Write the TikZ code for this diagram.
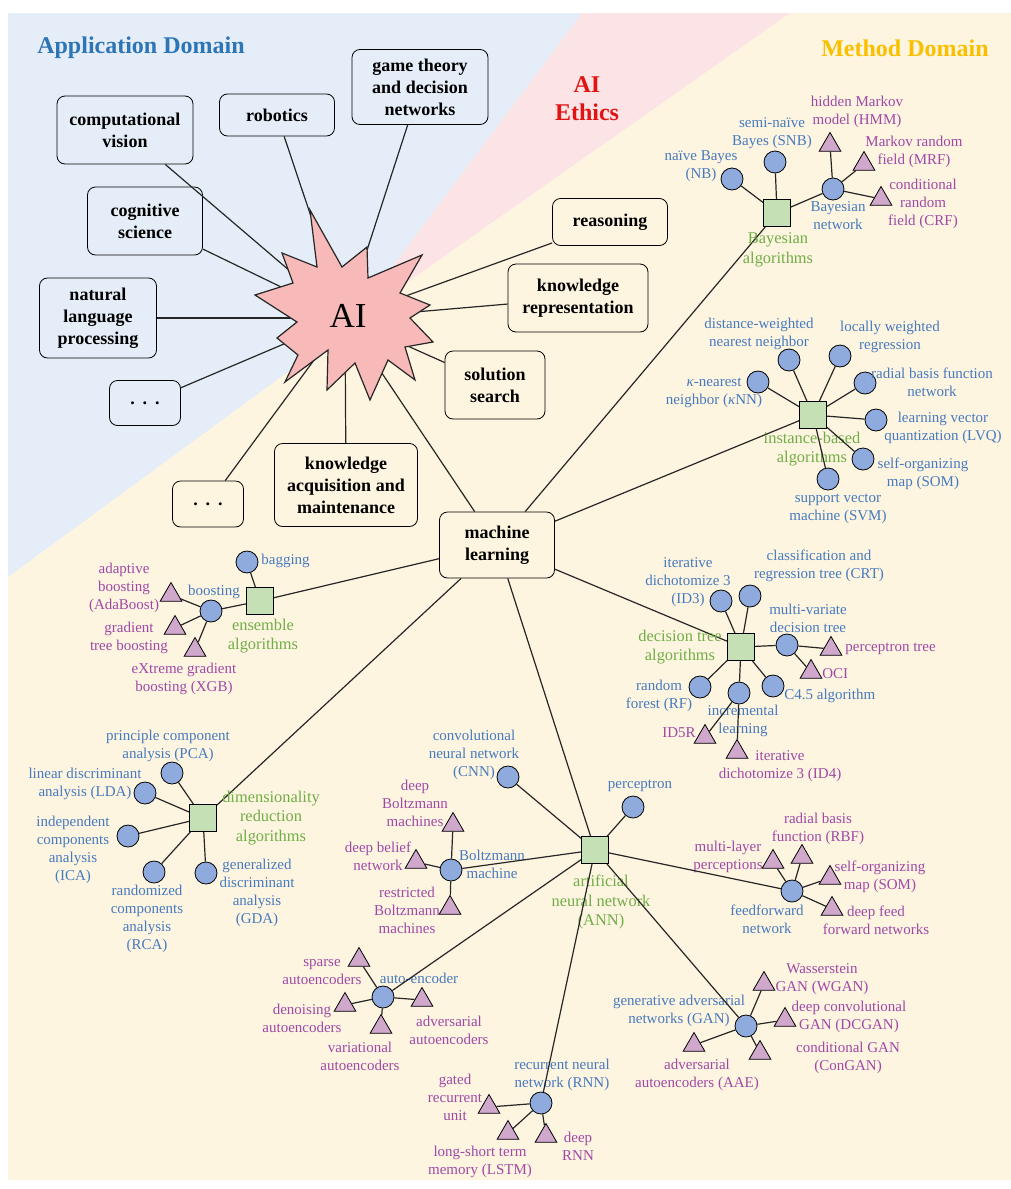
\documentclass[tikz,border=0pt]{standalone}
\usepackage{fontspec}
\setmainfont{Liberation Serif}
\usepackage{tikz}
\usetikzlibrary{shapes.geometric}
\definecolor{bgblue}{RGB}{229,238,248}
\definecolor{bgpink}{RGB}{252,228,230}
\definecolor{bgyellow}{RGB}{254,245,225}
\definecolor{starpink}{RGB}{248,185,185}
\definecolor{sqgreen}{RGB}{197,224,180}
\definecolor{txtgreen}{RGB}{112,173,71}
\definecolor{circblue}{RGB}{143,170,220}
\definecolor{txtblue}{RGB}{70,122,190}
\definecolor{tripink}{RGB}{208,168,204}
\definecolor{txtpurple}{RGB}{160,72,165}
\definecolor{appblue}{RGB}{46,117,182}
\definecolor{methgold}{RGB}{250,192,0}
\definecolor{ethred}{RGB}{225,20,20}
\tikzset{box/.style = {draw, rounded corners = 4pt, align = center, inner sep = 1pt,
                       font = \bfseries\fontsize{9}{11}\selectfont}}
\tikzset{edge/.style = {draw = black!85, line width = 0.6pt}}
\tikzset{circ/.style = {circle, draw, fill = circblue, minimum size = 11pt, inner sep = 0}}
\tikzset{tri/.style = {regular polygon, regular polygon sides = 3, draw, fill = tripink,
                       minimum size = 12.5pt, inner sep = 0}}
\tikzset{sq/.style = {rectangle, draw, fill = sqgreen, minimum size = 13.5pt, inner sep = 0}}
\tikzset{bl/.style = {text = txtblue, align = center, inner sep = 0,
                      font = \fontsize{7.5}{9}\selectfont}}
\tikzset{pl/.style = {text = txtpurple, align = center, inner sep = 0,
                      font = \fontsize{7.5}{9}\selectfont}}
\tikzset{gl/.style = {text = txtgreen, align = center, inner sep = 0,
                      font = \fontsize{8.2}{9.8}\selectfont}}
\tikzset{title/.style = {font = \bfseries\fontsize{12}{14}\selectfont, align = center, inner sep = 0}}

\begin{document}
\begin{tikzpicture}[x = 0.5pt, y = -0.5pt]
      \useasboundingbox (0, 0) rectangle (1011, 1189);
      \fill [white] (0, 0) rectangle (1011, 1189);
      \fill [bgyellow] (8, 13) rectangle (1011, 1180);
      \fill [bgpink] (582, 13) -- (790, 13) -- (345, 326) -- cycle;
      \fill [bgblue] (8, 13) -- (582, 13) -- (345, 330) -- (8, 577) -- cycle;

      \node [title, text = appblue] (appt) at (141, 48) {Application Domain};
      \node [title, text = methgold] (metht) at (905, 48) {Method Domain};
      \node [title, text = ethred] (etht) at (587, 99) {AI\\Ethics};

      \node [box, minimum width = 68pt, minimum height = 34pt] (cv) at (125, 130) {computational\\vision};
      \node [box, minimum width = 57.5pt, minimum height = 21pt] (rob) at (277, 115) {robotics};
      \node [box, minimum width = 68pt, minimum height = 37.5pt] (gt) at (420, 87) {game theory\\and decision\\networks};
      \node [box, minimum width = 57.5pt, minimum height = 34pt] (cs) at (145, 221) {cognitive\\science};
      \node [box, minimum width = 58.5pt, minimum height = 40pt] (nlp) at (98, 318) {natural\\language\\processing};
      \node [box, minimum width = 35.5pt, minimum height = 22.5pt] (dotsA) at (145, 403) {.\hspace{4pt}.\hspace{4pt}.};
      \node [box, minimum width = 35.5pt, minimum height = 23pt] (dotsM) at (208, 504) {.\hspace{4pt}.\hspace{4pt}.};
      \node [box, minimum width = 71.5pt, minimum height = 41.5pt] (kam) at (346, 485) {knowledge\\acquisition and\\maintenance};
      \node [box, minimum width = 57.5pt, minimum height = 33pt] (ml) at (497, 545) {machine\\learning};
      \node [box, minimum width = 57.5pt, minimum height = 23.5pt] (reas) at (610, 222) {reasoning};
      \node [box, minimum width = 70pt, minimum height = 34pt] (krep) at (578, 298) {knowledge\\representation};
      \node [box, minimum width = 50pt, minimum height = 34pt] (sols) at (495, 385) {solution\\search};

      \coordinate (AIc) at (345, 318);
      \draw [edge] (cv) -- (AIc);
      \draw [edge] (rob) -- (AIc);
      \draw [edge] (gt) -- (AIc);
      \draw [edge] (cs) -- (AIc);
      \draw [edge] (nlp) -- (AIc);
      \draw [edge] (dotsA) -- (AIc);
      \draw [edge] (dotsM) -- (AIc);
      \draw [edge] (kam) -- (AIc);
      \draw [edge] (ml) -- (AIc);
      \draw [edge] (reas) -- (AIc);
      \draw [edge] (krep) -- (AIc);
      \draw [edge] (sols) -- (AIc);

      \filldraw [fill = starpink, draw = black!85, line width = 0.6pt]
        (310, 210) -- (342, 267) -- (367, 247) -- (368, 278) -- (422, 255) -- (400, 293)
        -- (430, 305) -- (410, 318) -- (433, 342) -- (405, 347) -- (415, 380) -- (388, 360)
        -- (370, 400) -- (355, 363) -- (327, 390) -- (328, 350) -- (285, 382) -- (298, 355)
        -- (277, 338) -- (297, 322) -- (255, 295) -- (293, 283) -- (282, 253) -- (317, 267) -- cycle;
      \node [font = \fontsize{17.5}{20}\selectfont, inner sep = 0] (AI) at (348, 316) {AI};

      \node [sq] (bay) at (777, 213) {};
      \node [sq] (inst) at (813, 415) {};
      \node [sq] (dtree) at (741, 647) {};
      \node [sq] (ens) at (260, 601) {};
      \node [sq] (dimred) at (203, 818) {};
      \node [sq] (ann) at (595, 850) {};
      \draw [edge] (ml) -- (bay);
      \draw [edge] (ml) -- (inst);
      \draw [edge] (ml) -- (dtree);
      \draw [edge] (ml) -- (ens);
      \draw [edge] (ml) -- (dimred);
      \draw [edge] (ml) -- (ann);

      \node [gl] (bayl) at (778, 250) {Bayesian\\algorithms};
      \node [circ] (nb) at (732, 179) {};
      \node [circ] (snb) at (775, 162) {};
      \node [circ] (bn) at (833, 189) {};
      \node [tri] (hmm) at (830, 145) {};
      \node [tri] (mrf) at (864, 164) {};
      \node [tri] (crf) at (881, 199) {};
      \node [bl] (nbl) at (701, 166) {naïve Bayes\\(NB)};
      \node [bl] (snbl) at (772, 133) {semi-naïve\\Bayes (SNB)};
      \node [bl] (bnl) at (838, 216) {Bayesian\\network};
      \node [pl] (hmml) at (857, 112) {hidden Markov\\model (HMM)};
      \node [pl] (mrfl) at (914, 152) {Markov random\\field (MRF)};
      \node [pl] (crfl) at (923, 204) {conditional\\random\\field (CRF)};
      \draw [edge] (bay) -- (nb);
      \draw [edge] (bay) -- (snb);
      \draw [edge] (bay) -- (bn);
      \draw [edge] (bn) -- (hmm);
      \draw [edge] (bn) -- (mrf);
      \draw [edge] (bn) -- (crf);

      \node [gl] (instl) at (812, 449) {instance-based\\algorithms};
      \node [circ] (knn) at (758, 382) {};
      \node [circ] (dwnn) at (789, 360) {};
      \node [circ] (lwr) at (840, 356) {};
      \node [circ] (rbfn) at (865, 383) {};
      \node [circ] (lvq) at (876, 420) {};
      \node [circ] (somi) at (863, 459) {};
      \node [circ] (svm) at (828, 479) {};
      \node [bl] (knnl) at (714, 393) {\textit{κ}-nearest\\neighbor (\textit{κ}NN)};
      \node [bl] (dwnnl) at (759, 334) {distance-weighted\\nearest neighbor};
      \node [bl] (lwrl) at (890, 337) {locally weighted\\regression};
      \node [bl] (rbfnl) at (932, 382) {radial basis function\\network};
      \node [bl] (lvql) at (943, 428) {learning vector\\quantization (LVQ)};
      \node [bl] (somil) at (923, 474) {self-organizing\\map (SOM)};
      \node [bl] (svml) at (838, 509) {support vector\\machine (SVM)};
      \draw [edge] (inst) -- (knn);
      \draw [edge] (inst) -- (dwnn);
      \draw [edge] (inst) -- (lwr);
      \draw [edge] (inst) -- (rbfn);
      \draw [edge] (inst) -- (lvq);
      \draw [edge] (inst) -- (somi);
      \draw [edge] (inst) -- (svm);

      \node [gl] (dtreel) at (680, 647) {decision tree\\algorithms};
      \node [circ] (id3) at (721, 601) {};
      \node [circ] (crt) at (750, 596) {};
      \node [circ] (mvdt) at (787, 645) {};
      \node [tri] (ptree) at (831, 649) {};
      \node [tri] (oci) at (811, 672) {};
      \node [circ] (cfour) at (773, 686) {};
      \node [circ] (incl) at (739, 693) {};
      \node [circ] (rf) at (700, 687) {};
      \node [tri] (idfiver) at (705, 737) {};
      \node [tri] (idfour) at (737, 752) {};
      \node [bl] (id3l) at (688, 582) {iterative\\dichotomize 3\\(ID3)};
      \node [bl] (crtl) at (819, 566) {classification and\\regression tree (CRT)};
      \node [bl] (mvdtl) at (808, 618) {multi-variate\\decision tree};
      \node [pl, anchor = west] (ptreel) at (845, 649) {perceptron tree};
      \node [pl, anchor = west] (ocil) at (822, 674) {OCI};
      \node [bl, anchor = west] (cfourl) at (784, 696) {C4.5 algorithm};
      \node [bl] (incll) at (743, 721) {incremental\\learning};
      \node [bl] (rfl) at (659, 696) {random\\forest (RF)};
      \node [pl, anchor = east] (idfiverl) at (696, 733) {ID5R};
      \node [pl] (idfourl) at (780, 766) {iterative\\dichotomize 3 (ID4)};
      \draw [edge] (dtree) -- (id3);
      \draw [edge] (dtree) -- (crt);
      \draw [edge] (dtree) -- (mvdt);
      \draw [edge] (dtree) -- (cfour);
      \draw [edge] (dtree) -- (incl);
      \draw [edge] (dtree) -- (rf);
      \draw [edge] (mvdt) -- (ptree);
      \draw [edge] (mvdt) -- (oci);
      \draw [edge] (incl) -- (idfiver);
      \draw [edge] (incl) -- (idfour);

      \node [gl] (ensl) at (263, 636) {ensemble\\algorithms};
      \node [circ] (bag) at (247, 562) {};
      \node [circ] (boost) at (211, 611) {};
      \node [tri] (ada) at (171, 595) {};
      \node [tri] (gtb) at (175, 628) {};
      \node [tri] (xgb) at (195, 650) {};
      \node [bl, anchor = west] (bagl) at (261, 561) {bagging};
      \node [bl] (boostl) at (214, 592) {boosting};
      \node [pl] (adal) at (124, 588) {adaptive\\boosting\\(AdaBoost)};
      \node [pl] (gtbl) at (129, 638) {gradient\\tree boosting};
      \node [pl] (xgbl) at (184, 679) {eXtreme gradient\\boosting (XGB)};
      \draw [edge] (ens) -- (bag);
      \draw [edge] (ens) -- (boost);
      \draw [edge] (boost) -- (ada);
      \draw [edge] (boost) -- (gtb);
      \draw [edge] (boost) -- (xgb);

      \node [gl] (dimredl) at (271, 818) {dimensionality\\reduction\\algorithms};
      \node [circ] (pca) at (172, 773) {};
      \node [circ] (lda) at (145, 793) {};
      \node [circ] (ica) at (128, 836) {};
      \node [circ] (rca) at (154, 872) {};
      \node [circ] (gda) at (206, 873) {};
      \node [bl] (pcal) at (168, 746) {principle component\\analysis (PCA)};
      \node [bl] (ldal) at (85, 784) {linear discriminant\\analysis (LDA)};
      \node [bl] (ical) at (73, 850) {independent\\components\\analysis\\(ICA)};
      \node [bl] (rcal) at (147, 919) {randomized\\components\\analysis\\(RCA)};
      \node [bl] (gdal) at (257, 893) {generalized\\discriminant\\analysis\\(GDA)};
      \draw [edge] (dimred) -- (pca);
      \draw [edge] (dimred) -- (lda);
      \draw [edge] (dimred) -- (ica);
      \draw [edge] (dimred) -- (rca);
      \draw [edge] (dimred) -- (gda);

      \node [gl] (annl) at (601, 902) {artificial\\neural network\\(ANN)};
      \node [circ] (cnn) at (508, 777) {};
      \node [circ] (perc) at (633, 807) {};
      \node [circ] (boltz) at (451, 870) {};
      \node [tri] (dbm) at (453, 825) {};
      \node [tri] (dbn) at (416, 862) {};
      \node [tri] (rbm) at (450, 908) {};
      \node [circ] (ffn) at (792, 891) {};
      \node [tri] (mlp) at (773, 862) {};
      \node [tri] (rbf) at (802, 857) {};
      \node [tri] (soma) at (830, 878) {};
      \node [tri] (dffn) at (832, 909) {};
      \node [circ] (gan) at (746, 1026) {};
      \node [tri] (wgan) at (764, 984) {};
      \node [tri] (dcgan) at (785, 1020) {};
      \node [tri] (cgan) at (760, 1053) {};
      \node [tri] (aae) at (694, 1045) {};
      \node [circ] (ae) at (383, 997) {};
      \node [tri] (sae) at (359, 960) {};
      \node [tri] (dae) at (345, 1005) {};
      \node [tri] (vae) at (381, 1027) {};
      \node [tri] (advae) at (422, 1000) {};
      \node [circ] (rnn) at (541, 1103) {};
      \node [tri] (gru) at (489, 1107) {};
      \node [tri] (lstm) at (508, 1133) {};
      \node [tri] (drnn) at (546, 1136) {};
      \node [bl] (cnnl) at (474, 755) {convolutional\\neural network\\(CNN)};
      \node [bl] (percl) at (640, 786) {perceptron};
      \node [bl] (boltzl) at (492, 864) {Boltzmann\\machine};
      \node [pl] (dbml) at (415, 803) {deep\\Boltzmann\\machines};
      \node [pl] (dbnl) at (378, 856) {deep belief\\network};
      \node [pl] (rbml) at (407, 910) {restricted\\Boltzmann\\machines};
      \node [bl] (ffnl) at (767, 919) {feedforward\\network};
      \node [pl] (mlpl) at (728, 857) {multi-layer\\perceptions};
      \node [pl] (rbfl) at (818, 829) {radial basis\\function (RBF)};
      \node [pl] (somal) at (880, 877) {self-organizing\\map (SOM)};
      \node [pl] (dffnl) at (876, 920) {deep feed\\forward networks};
      \node [bl] (ganl) at (679, 1011) {generative adversarial\\networks (GAN)};
      \node [pl] (wganl) at (822, 979) {Wasserstein\\GAN (WGAN)};
      \node [pl] (dcganl) at (849, 1017) {deep convolutional\\GAN (DCGAN)};
      \node [pl] (cganl) at (848, 1058) {conditional GAN\\(ConGAN)};
      \node [pl] (aael) at (697, 1075) {adversarial\\autoencoders (AAE)};
      \node [bl] (ael) at (419, 978) {auto-encoder};
      \node [pl] (sael) at (322, 972) {sparse\\autoencoders};
      \node [pl] (dael) at (302, 1018) {denoising\\autoencoders};
      \node [pl] (vael) at (360, 1056) {variational\\autoencoders};
      \node [pl] (advael) at (449, 1030) {adversarial\\autoencoders};
      \node [bl] (rnnl) at (562, 1075) {recurrent neural\\network (RNN)};
      \node [pl] (grul) at (455, 1097) {gated\\recurrent\\unit};
      \node [pl] (lstml) at (480, 1162) {long-short term\\memory (LSTM)};
      \node [pl] (drnnl) at (578, 1146) {deep\\RNN};
      \draw [edge] (ann) -- (cnn);
      \draw [edge] (ann) -- (perc);
      \draw [edge] (ann) -- (boltz);
      \draw [edge] (ann) -- (ffn);
      \draw [edge] (ann) -- (gan);
      \draw [edge] (ann) -- (ae);
      \draw [edge] (ann) -- (rnn);
      \draw [edge] (boltz) -- (dbm);
      \draw [edge] (boltz) -- (dbn);
      \draw [edge] (boltz) -- (rbm);
      \draw [edge] (ffn) -- (mlp);
      \draw [edge] (ffn) -- (rbf);
      \draw [edge] (ffn) -- (soma);
      \draw [edge] (ffn) -- (dffn);
      \draw [edge] (gan) -- (wgan);
      \draw [edge] (gan) -- (dcgan);
      \draw [edge] (gan) -- (cgan);
      \draw [edge] (gan) -- (aae);
      \draw [edge] (ae) -- (sae);
      \draw [edge] (ae) -- (dae);
      \draw [edge] (ae) -- (vae);
      \draw [edge] (ae) -- (advae);
      \draw [edge] (rnn) -- (gru);
      \draw [edge] (rnn) -- (lstm);
      \draw [edge] (rnn) -- (drnn);
    \end{tikzpicture}
\end{document}
